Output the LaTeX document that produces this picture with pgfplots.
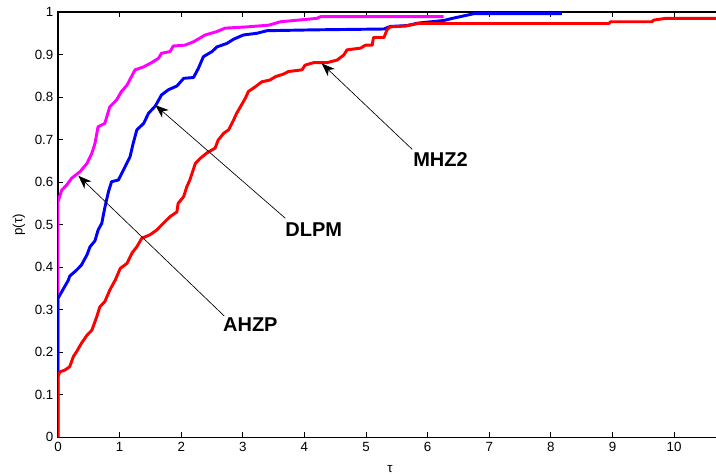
\documentclass[border=0pt]{standalone}
\usepackage{fontspec}
\setmainfont{Liberation Sans}
\usepackage{pgfplots}
\pgfplotsset{compat=1.18}
\usetikzlibrary{arrows.meta}

\definecolor{ahzp}{RGB}{255,0,255}
\definecolor{dlpm}{RGB}{0,0,255}
\definecolor{mhz}{RGB}{255,0,0}

\begin{document}
\begin{tikzpicture}
% page = axis plus margins; the frame runs 3pt past the right edge, so its right side is cut off
\useasboundingbox (-43.5pt,-27.5pt) rectangle (493.5pt,328pt);
\begin{axis}[
  at={(0pt,0pt)}, anchor=south west,
  scale only axis,
  width=496.5pt, height=319pt,
  xmin=0, xmax=10.745, ymin=0, ymax=1,
  xtick pos=both, ytick pos=left,
  xtick={0,1,...,10},
  ytick={0,0.1,...,1.0},
  yticklabels={0,0.1,0.2,0.3,0.4,0.5,0.6,0.7,0.8,0.9,1},
  tick align=inside,
  major tick length=4pt,
  every tick/.style={black, line width=0.6pt},
  axis line style={black, line width=0.8pt},
  /pgf/number format/assume math mode=true,
  tick label style={font=\fontsize{10}{12}\selectfont},
  xlabel={τ}, ylabel={p(τ)},
  label style={font=\fontsize{10}{12}\selectfont},
  xlabel style={at={(axis description cs:0.5015,-0.0816)}, anchor=base},
  ylabel style={at={(axis description cs:-0.059,0.5)}, anchor=center},
  every axis plot/.append style={line width=2.2pt, line join=round},
]
% AHZP
\addplot[ahzp] coordinates {
(0,0) (0,0.554) (0.06,0.581) (0.14,0.593) (0.22,0.609) (0.36,0.625) (0.47,0.644)
(0.55,0.668) (0.60,0.691) (0.65,0.730) (0.76,0.738) (0.84,0.777) (0.95,0.793)
(1.03,0.813) (1.12,0.828) (1.25,0.864) (1.39,0.871) (1.52,0.881) (1.63,0.891)
(1.68,0.903) (1.82,0.907) (1.87,0.920) (2.06,0.922) (2.20,0.930) (2.39,0.946)
(2.58,0.954) (2.71,0.962) (3.07,0.965) (3.42,0.969) (3.61,0.977) (4.20,0.985)
(4.26,0.989) (6.26,0.989)
};
% DLPM
\addplot[dlpm] coordinates {
(0,0) (0,0.327) (0.06,0.342) (0.17,0.370) (0.19,0.379) (0.30,0.393) (0.38,0.405)
(0.47,0.429) (0.52,0.448) (0.60,0.462) (0.65,0.487) (0.71,0.503) (0.76,0.540)
(0.82,0.578) (0.87,0.601) (0.98,0.605) (1.06,0.628) (1.17,0.660) (1.22,0.691)
(1.28,0.723) (1.39,0.738) (1.47,0.762) (1.58,0.779) (1.68,0.805) (1.79,0.817)
(1.93,0.826) (2.04,0.844) (2.20,0.846) (2.28,0.868) (2.36,0.895) (2.50,0.907)
(2.58,0.918) (2.74,0.926) (2.85,0.936) (3.01,0.946) (3.23,0.950) (3.39,0.956)
(4.15,0.958) (5.29,0.960) (5.39,0.966) (5.66,0.968) (5.85,0.974) (6.26,0.980)
(6.40,0.985) (6.75,0.996) (8.18,0.996)
};
% MHZ2
\addplot[mhz] coordinates {
(0,0) (0,0.143) (0.03,0.154) (0.11,0.158) (0.19,0.166) (0.25,0.190) (0.30,0.201)
(0.38,0.221) (0.47,0.240) (0.55,0.252) (0.63,0.284) (0.68,0.307) (0.76,0.319)
(0.84,0.346) (0.93,0.370) (1.01,0.397) (1.12,0.409) (1.20,0.433) (1.28,0.448)
(1.36,0.468) (1.49,0.476) (1.60,0.487) (1.68,0.499) (1.82,0.519) (1.93,0.530)
(1.95,0.550) (2.04,0.566) (2.09,0.589) (2.14,0.605) (2.23,0.644) (2.31,0.656)
(2.42,0.669) (2.55,0.680) (2.60,0.699) (2.69,0.715) (2.77,0.723) (2.85,0.746)
(2.90,0.762) (2.96,0.777) (3.04,0.797) (3.09,0.813) (3.20,0.824) (3.31,0.836)
(3.44,0.840) (3.53,0.848) (3.66,0.854) (3.74,0.860) (3.96,0.864) (4.01,0.875)
(4.15,0.881) (4.37,0.881) (4.53,0.887) (4.64,0.899) (4.69,0.911) (4.91,0.915)
(4.99,0.922) (5.10,0.922) (5.12,0.940) (5.29,0.940) (5.34,0.958) (5.39,0.965)
(5.64,0.967) (5.85,0.973) (8.94,0.973) (8.97,0.977) (9.64,0.977) (9.67,0.981)
(9.86,0.985) (10.8,0.985)
};
% annotations
\draw[black, line width=0.5pt, -{Stealth[length=10pt,width=7.5pt,inset=3pt]}]
  (axis cs:2.70,0.285) -- (axis cs:0.33,0.615);
\draw[black, line width=0.5pt, -{Stealth[length=10pt,width=7.5pt,inset=3pt]}]
  (axis cs:3.69,0.515) -- (axis cs:1.58,0.781);
\draw[black, line width=0.5pt, -{Stealth[length=10pt,width=7.5pt,inset=3pt]}]
  (axis cs:5.75,0.677) -- (axis cs:4.28,0.879);
\node[anchor=base west, inner sep=0pt, font=\fontsize{15}{18}\selectfont\bfseries]
  at (axis cs:2.676,0.248) {AHZP};
\node[anchor=base west, inner sep=0pt, font=\fontsize{15}{18}\selectfont\bfseries]
  at (axis cs:3.688,0.471) {DLPM};
\node[anchor=base west, inner sep=0pt, font=\fontsize{15}{18}\selectfont\bfseries]
  at (axis cs:5.763,0.636) {MHZ2};
\end{axis}
\end{tikzpicture}
\end{document}
